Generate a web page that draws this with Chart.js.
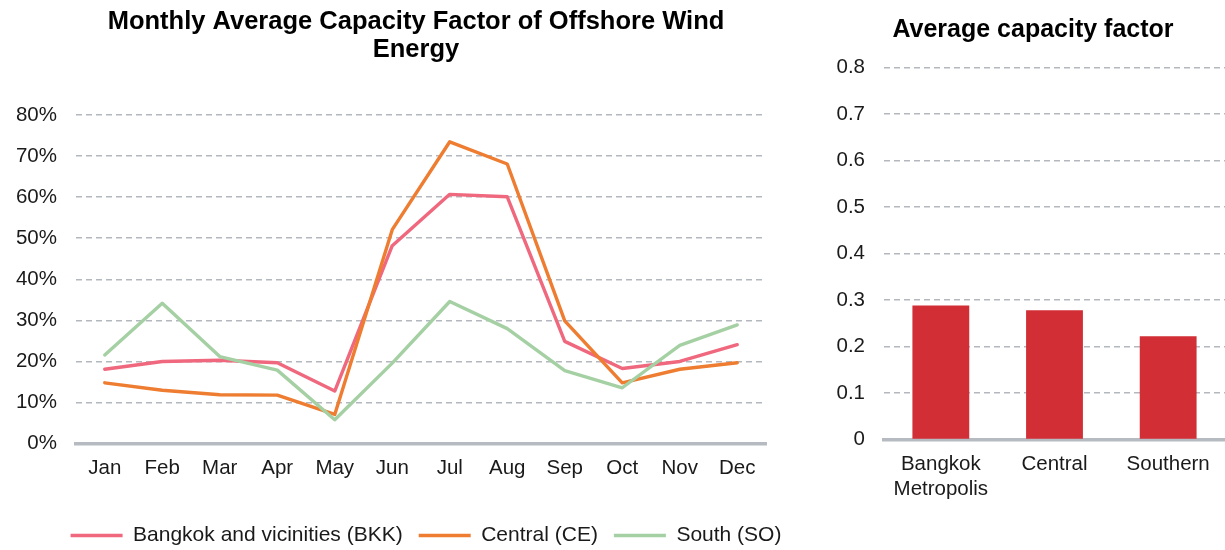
<!DOCTYPE html>
<html><head><meta charset="utf-8">
<script src="https://cdn.jsdelivr.net/npm/chart.js@4.4.1/dist/chart.umd.min.js"></script>
<style>
html,body{margin:0;padding:0;background:#fff;overflow:hidden;width:1225px;height:550px;position:relative;}
#c1{position:absolute;left:0;top:0;}
#c2{position:absolute;left:800px;top:0;}
</style></head><body>
<canvas id="c1" width="832" height="556"></canvas>
<canvas id="c2" width="466" height="550"></canvas>
<script>
// ---- data ----
const months = ["Jan","Feb","Mar","Apr","May","Jun","Jul","Aug","Sep","Oct","Nov","Dec"];
const bkk     = [18.1, 20.0, 20.3, 19.7, 12.8, 48.2, 60.7, 60.1, 24.9, 18.3, 20.0, 24.1];
const central = [14.8, 13.0, 11.9, 11.8,  7.1, 52.1, 73.5, 68.1, 29.9, 14.8, 18.1, 19.7];
const south   = [21.6, 34.2, 21.2, 17.9,  5.8, 19.6, 34.6, 28.0, 17.8, 13.6, 23.9, 28.9];
const seriesNames = ["Bangkok and vicinities (BKK)", "Central (CE)", "South (SO)"];
const leftTitle = ["Monthly Average Capacity Factor of Offshore Wind", "Energy"];
const pctTicks = [0,10,20,30,40,50,60,70,80];

const regions = [["Bangkok","Metropolis"], "Central", "Southern"];
const avgCF = [0.288, 0.278, 0.222];
const rightTitle = "Average capacity factor";
const cfTicks = [0,0.1,0.2,0.3,0.4,0.5,0.6,0.7,0.8];

// ---- styles ----
const FONT = "'Liberation Sans', Arial, Helvetica, sans-serif";
const TXT = '#1a1a1a';
const GRID = '#b3b8be';
const AXIS = '#b6bbc1';
const C_BKK = '#f0687e', C_CE = '#ee7d31', C_SO = '#a5d0a3', C_BAR = '#d12e36';
const tickFont = {family: FONT, size: 20.5};

Chart.defaults.animation = false;
Chart.defaults.devicePixelRatio = 1;

function dummyRight(w){
  return {position:'right', display:true, grid:{display:false}, border:{display:false},
          ticks:{display:false}, afterFit(s){ s.width = w; }};
}

const shiftLegend = {
  id: 'shiftLegend',
  afterLayout(chart){
    if (chart.legend) { chart.legend.left += 10; chart.legend.right += 10; }
  }
};

new Chart(document.getElementById('c1'), {
  type: 'line',
  data: {
    labels: months,
    datasets: [
      {label: seriesNames[0], data: bkk, borderColor: C_BKK, backgroundColor: C_BKK, order: 3},
      {label: seriesNames[1], data: central, borderColor: C_CE, backgroundColor: C_CE, order: 2},
      {label: seriesNames[2], data: south, borderColor: C_SO, backgroundColor: C_SO, order: 1}
    ]
  },
  plugins: [shiftLegend],
  options: {
    responsive: false,
    layout: {padding: 0},
    elements: {
      line: {borderWidth: 3.4, tension: 0, borderCapStyle: 'round', borderJoinStyle: 'round'},
      point: {radius: 0, hoverRadius: 0}
    },
    plugins: {
      tooltip: {enabled: false},
      title: {
        display: true, text: leftTitle, color: '#000',
        font: {family: FONT, size: 25.5, weight: 'bold', lineHeight: 1.1},
        padding: {top: 8, bottom: 51}
      },
      legend: {
        position: 'bottom', fullSize: true,
        labels: {
          font: {family: FONT, size: 21}, color: TXT,
          boxWidth: 52, boxHeight: 3.5, padding: 16,
          generateLabels: (chart) => chart.data.datasets.map((ds, i) => ({
            text: ds.label, fillStyle: ds.borderColor, strokeStyle: ds.borderColor,
            lineWidth: 0, hidden: false, datasetIndex: i, fontColor: TXT
          }))
        }
      }
    },
    scales: {
      x: {
        offset: true,
        grid: {display: true, color: 'transparent', drawTicks: false},
        border: {display: true, color: AXIS, width: 3.5},
        ticks: {font: tickFont, color: TXT, padding: 12, maxRotation: 0, autoSkip: false},
        afterFit(s){ s.height = 65.4; }
      },
      y: {
        min: 0, max: 80,
        afterBuildTicks(s){ s.ticks = pctTicks.map(v => ({value: v})); },
        ticks: {font: tickFont, color: TXT, padding: 19, callback: v => v + '%'},
        grid: {color: c => (c.tick && c.tick.value === 0) ? 'transparent' : GRID, lineWidth: 1.6, drawTicks: false},
        border: {display: false, dash: [6, 4]},
        afterFit(s){ s.width = 76; }
      },
      yR: dummyRight(66)
    }
  }
});

new Chart(document.getElementById('c2'), {
  type: 'bar',
  data: {
    labels: regions,
    datasets: [{label: rightTitle, data: avgCF, backgroundColor: C_BAR, borderWidth: 0,
                barPercentage: 0.5, categoryPercentage: 1.0}]
  },
  options: {
    responsive: false,
    layout: {padding: 0},
    plugins: {
      tooltip: {enabled: false},
      legend: {display: false},
      title: {
        display: true, text: rightTitle, color: '#000',
        font: {family: FONT, size: 25, weight: 'bold', lineHeight: 1.1},
        padding: {top: 16.5, bottom: 23.5}
      }
    },
    scales: {
      x: {
        grid: {display: true, color: 'transparent', drawTicks: false},
        border: {display: true, color: AXIS, width: 3.5},
        ticks: {font: tickFont, color: TXT, padding: 12.5, maxRotation: 0, autoSkip: false},
        afterFit(s){ s.height = 550 - 439.5; }
      },
      y: {
        min: 0, max: 0.8,
        afterBuildTicks(s){ s.ticks = cfTicks.map(v => ({value: v})); },
        ticks: {font: tickFont, color: TXT, padding: 19, callback: v => v === 0 ? '0' : v.toFixed(1)},
        grid: {color: c => (c.tick && c.tick.value === 0) ? 'transparent' : GRID, lineWidth: 1.6, drawTicks: false},
        border: {display: false, dash: [6, 4]},
        afterFit(s){ s.width = 84; }
      },
      yR: dummyRight(41)
    }
  }
});
</script>
</body></html>
